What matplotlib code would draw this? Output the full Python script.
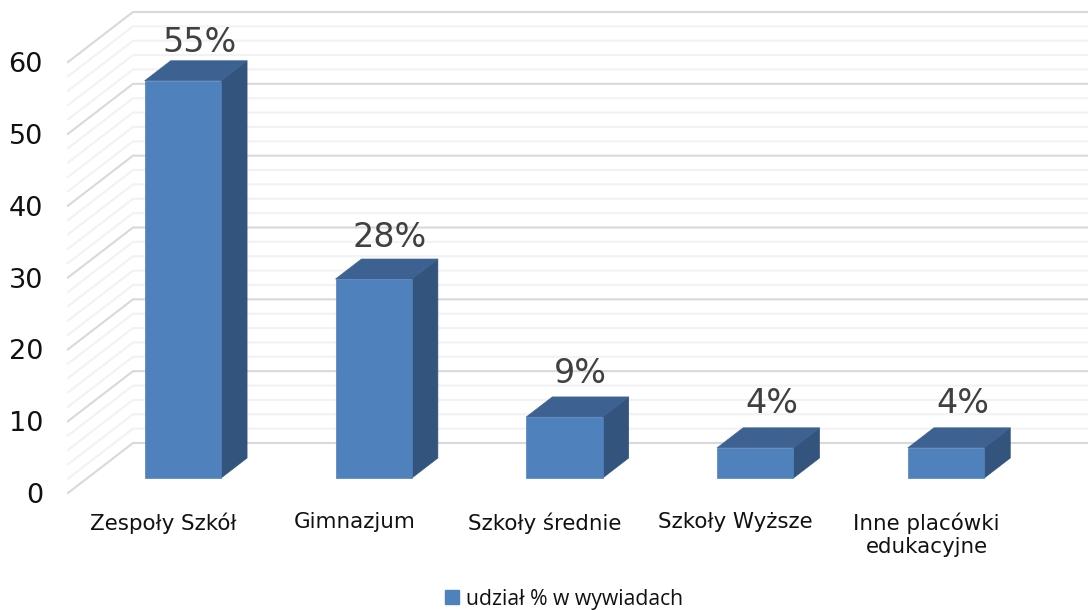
import matplotlib
matplotlib.use('Agg')
import matplotlib.pyplot as plt
from matplotlib.patches import Patch, Polygon
import numpy as np

plt.rcParams['font.family'] = ['DejaVu Sans']

categories = ['Zespoły Szkół', 'Gimnazjum', 'Szkoły średnie', 'Szkoły Wyższe', 'Inne placówki\nedukacyjne']
heights = [55.3, 27.7, 8.5, 4.2, 4.2]
labels = ['55%', '28%', '9%', '4%', '4%']
y_ticks = [0, 10, 20, 30, 40, 50, 60]
series_name = 'udział % w wywiadach'

W, H = 1090, 610
FRONT = '#4F81BD'
TOP = '#3D6291'
SIDE = '#33547D'

fig = plt.figure(figsize=(W / 100, H / 100), dpi=100)

# axes box is the front plane of the fake 3D chart
left, right, top, bottom = 68, 1022, 62, 493
ax = fig.add_axes([left / W, 1 - bottom / H, (right - left) / W, (bottom - top) / H])
ax.set_xlim(-0.5, 4.5)
ax.set_ylim(0, 60)
for s in ax.spines.values():
    s.set_visible(False)

# depth of the floor, in data units
DX = 65 / ((right - left) / 5)
DY = 50 / ((bottom - top) / 60)
BAR_W = 0.4

# walls and gridlines, every 2 units, darker every 10
for v in np.arange(0, 61, 2):
    major = v % 10 == 0
    ax.plot([-0.5, -0.5 + DX, 4.5 + DX], [v, v + DY, v + DY],
            color='#D9D9D9' if major else '#F2F2F2', lw=1.5,
            clip_on=False, zorder=2 if major else 1, solid_joinstyle='miter')


def shift(x, y, d):
    return (x + d * DX, y + d * DY)


# bars sit between 30% and 70% of the floor depth
D0, D1 = 0.3, 0.7
for i, h in enumerate(heights):
    x0, x1 = i - BAR_W / 2, i + BAR_W / 2
    front = [shift(x0, 0, D0), shift(x1, 0, D0), shift(x1, h, D0), shift(x0, h, D0)]
    side = [shift(x1, 0, D0), shift(x1, 0, D1), shift(x1, h, D1), shift(x1, h, D0)]
    roof = [shift(x0, h, D0), shift(x1, h, D0), shift(x1, h, D1), shift(x0, h, D1)]
    for pts, c in ((side, SIDE), (roof, TOP), (front, FRONT)):
        ax.add_patch(Polygon(pts, closed=True, facecolor=c, edgecolor=c, lw=0.5,
                             clip_on=False, zorder=3))
    # short bars carry their label a bit higher in the original
    gap = 1.5 + 4.5 * (1 - h / heights[0])
    ax.annotate(labels[i], xy=shift(i, h, D1), xytext=(-7, gap), textcoords='offset points',
                ha='center', va='bottom', fontsize=24, color='#404040',
                annotation_clip=False, zorder=4)

ax.set_yticks(y_ticks)
ax.set_xticks(range(len(categories)))
ax.set_xticklabels(categories, fontsize=15.4, color='#111111', linespacing=1.2)
ax.tick_params(axis='x', length=0, pad=14)
ax.tick_params(axis='y', length=0, pad=18, labelsize=19.5, labelcolor='#111111')

handle = Patch(facecolor=FRONT, edgecolor=FRONT, label=series_name)
fig.legend(handles=[handle], loc='center', bbox_to_anchor=(0.5175, 0.018), frameon=False,
           prop={'family': 'Open Sans', 'size': 15.2}, handlelength=0.65, handleheight=0.65,
           handletextpad=0.35, labelcolor='#111111', borderpad=0)

fig.savefig('out.png', dpi=100)
